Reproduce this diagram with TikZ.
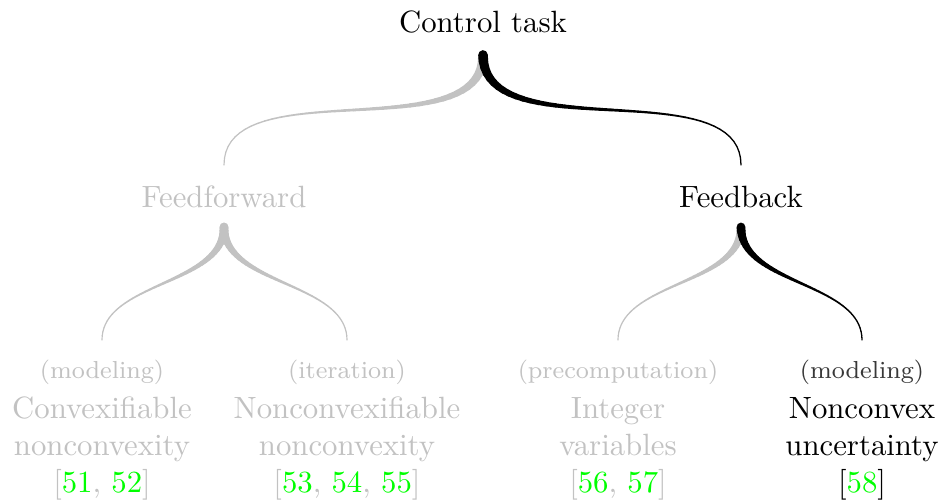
\documentclass[tikz,border=0pt]{standalone}
\usetikzlibrary{calc}
\definecolor{faded}{gray}{0.76}
\definecolor{citegreen}{rgb}{0,1,0}
\definecolor{subdark}{gray}{0.22}
\newcommand\cit[1]{\textcolor{citegreen}{#1}}
% tapered curve: #1 from, #2 to, #3 control distance, #4 colour, #5 prefix, #6 top width, #7 bottom width
\newcommand\taperlink[7]{%
  \foreach \i in {0,...,40}{%
    \pgfmathsetmacro\tpos{\i/40}%
    \path (#1) .. controls ($(#1)+(0,#3)$) and ($(#2)+(0,-#3)$) .. (#2) coordinate[pos=\tpos] (#5\i);%
  }%
  \foreach \i in {0,...,39}{%
    \pgfmathtruncatemacro\inext{\i+1}%
    \pgfmathsetmacro\wd{#7+(#6-#7)*(1-(\i+0.5)/40)^2.5}%
    \draw[draw=#4, line width=\wd pt, line cap=round] (#5\i) -- (#5\inext);%
  }%
}
\tikzset{
  lbl/.style={inner sep=0pt, font=\normalsize},
  leaf/.style={inner sep=0pt, anchor=north, align=center, font=\normalsize},
}
\begin{document}
\begin{tikzpicture}[x=0.325pt,y=-0.325pt]
\useasboundingbox (0,0) rectangle (943,503);
% labels
\node[lbl] (ct) at (483,22) {Control task};
\node[lbl, text=faded] (ff) at (224,197) {Feedforward};
\node[lbl] (fb) at (741,197) {Feedback};
\node[leaf, text=faded] (l1) at (102,359.5) {{\footnotesize (modeling)}\\[1pt]Convexifiable\\nonconvexity\\{[}\cit{51}, \cit{52}{]}};
\node[leaf, text=faded] (l2) at (347,359.5) {{\footnotesize (iteration)}\\[1pt]Nonconvexifiable\\nonconvexity\\{[}\cit{53}, \cit{54}, \cit{55}{]}};
\node[leaf, text=faded] (l3) at (618,359.5) {{\footnotesize (precomputation)}\\[1pt]Integer\\variables\\{[}\cit{56}, \cit{57}{]}};
\node[leaf] (l4) at (862,359.5) {{\footnotesize\color{subdark}(modeling)}\\[1pt]Nonconvex\\uncertainty\\{[}\cit{58}{]}};
% connector end points
\coordinate (ct-out) at (483,55);
\coordinate (ff-in) at (224,165);
\coordinate (fb-in) at (741,165);
\coordinate (ff-out) at (224,227);
\coordinate (fb-out) at (741,227);
\coordinate (l1-in) at (102,340);
\coordinate (l2-in) at (347,340);
\coordinate (l3-in) at (618,340);
\coordinate (l4-in) at (862,340);
% faded branches first
\taperlink{ct-out}{ff-in}{95}{faded}{a}{3.2}{0.38}
\taperlink{ff-out}{l1-in}{58}{faded}{b}{2.9}{0.38}
\taperlink{ff-out}{l2-in}{58}{faded}{c}{2.9}{0.38}
\taperlink{fb-out}{l3-in}{58}{faded}{d}{2.9}{0.38}
% chosen branches on top
\taperlink{ct-out}{fb-in}{95}{black}{e}{3.2}{0.42}
\taperlink{fb-out}{l4-in}{58}{black}{f}{2.9}{0.42}
\end{tikzpicture}
\end{document}
